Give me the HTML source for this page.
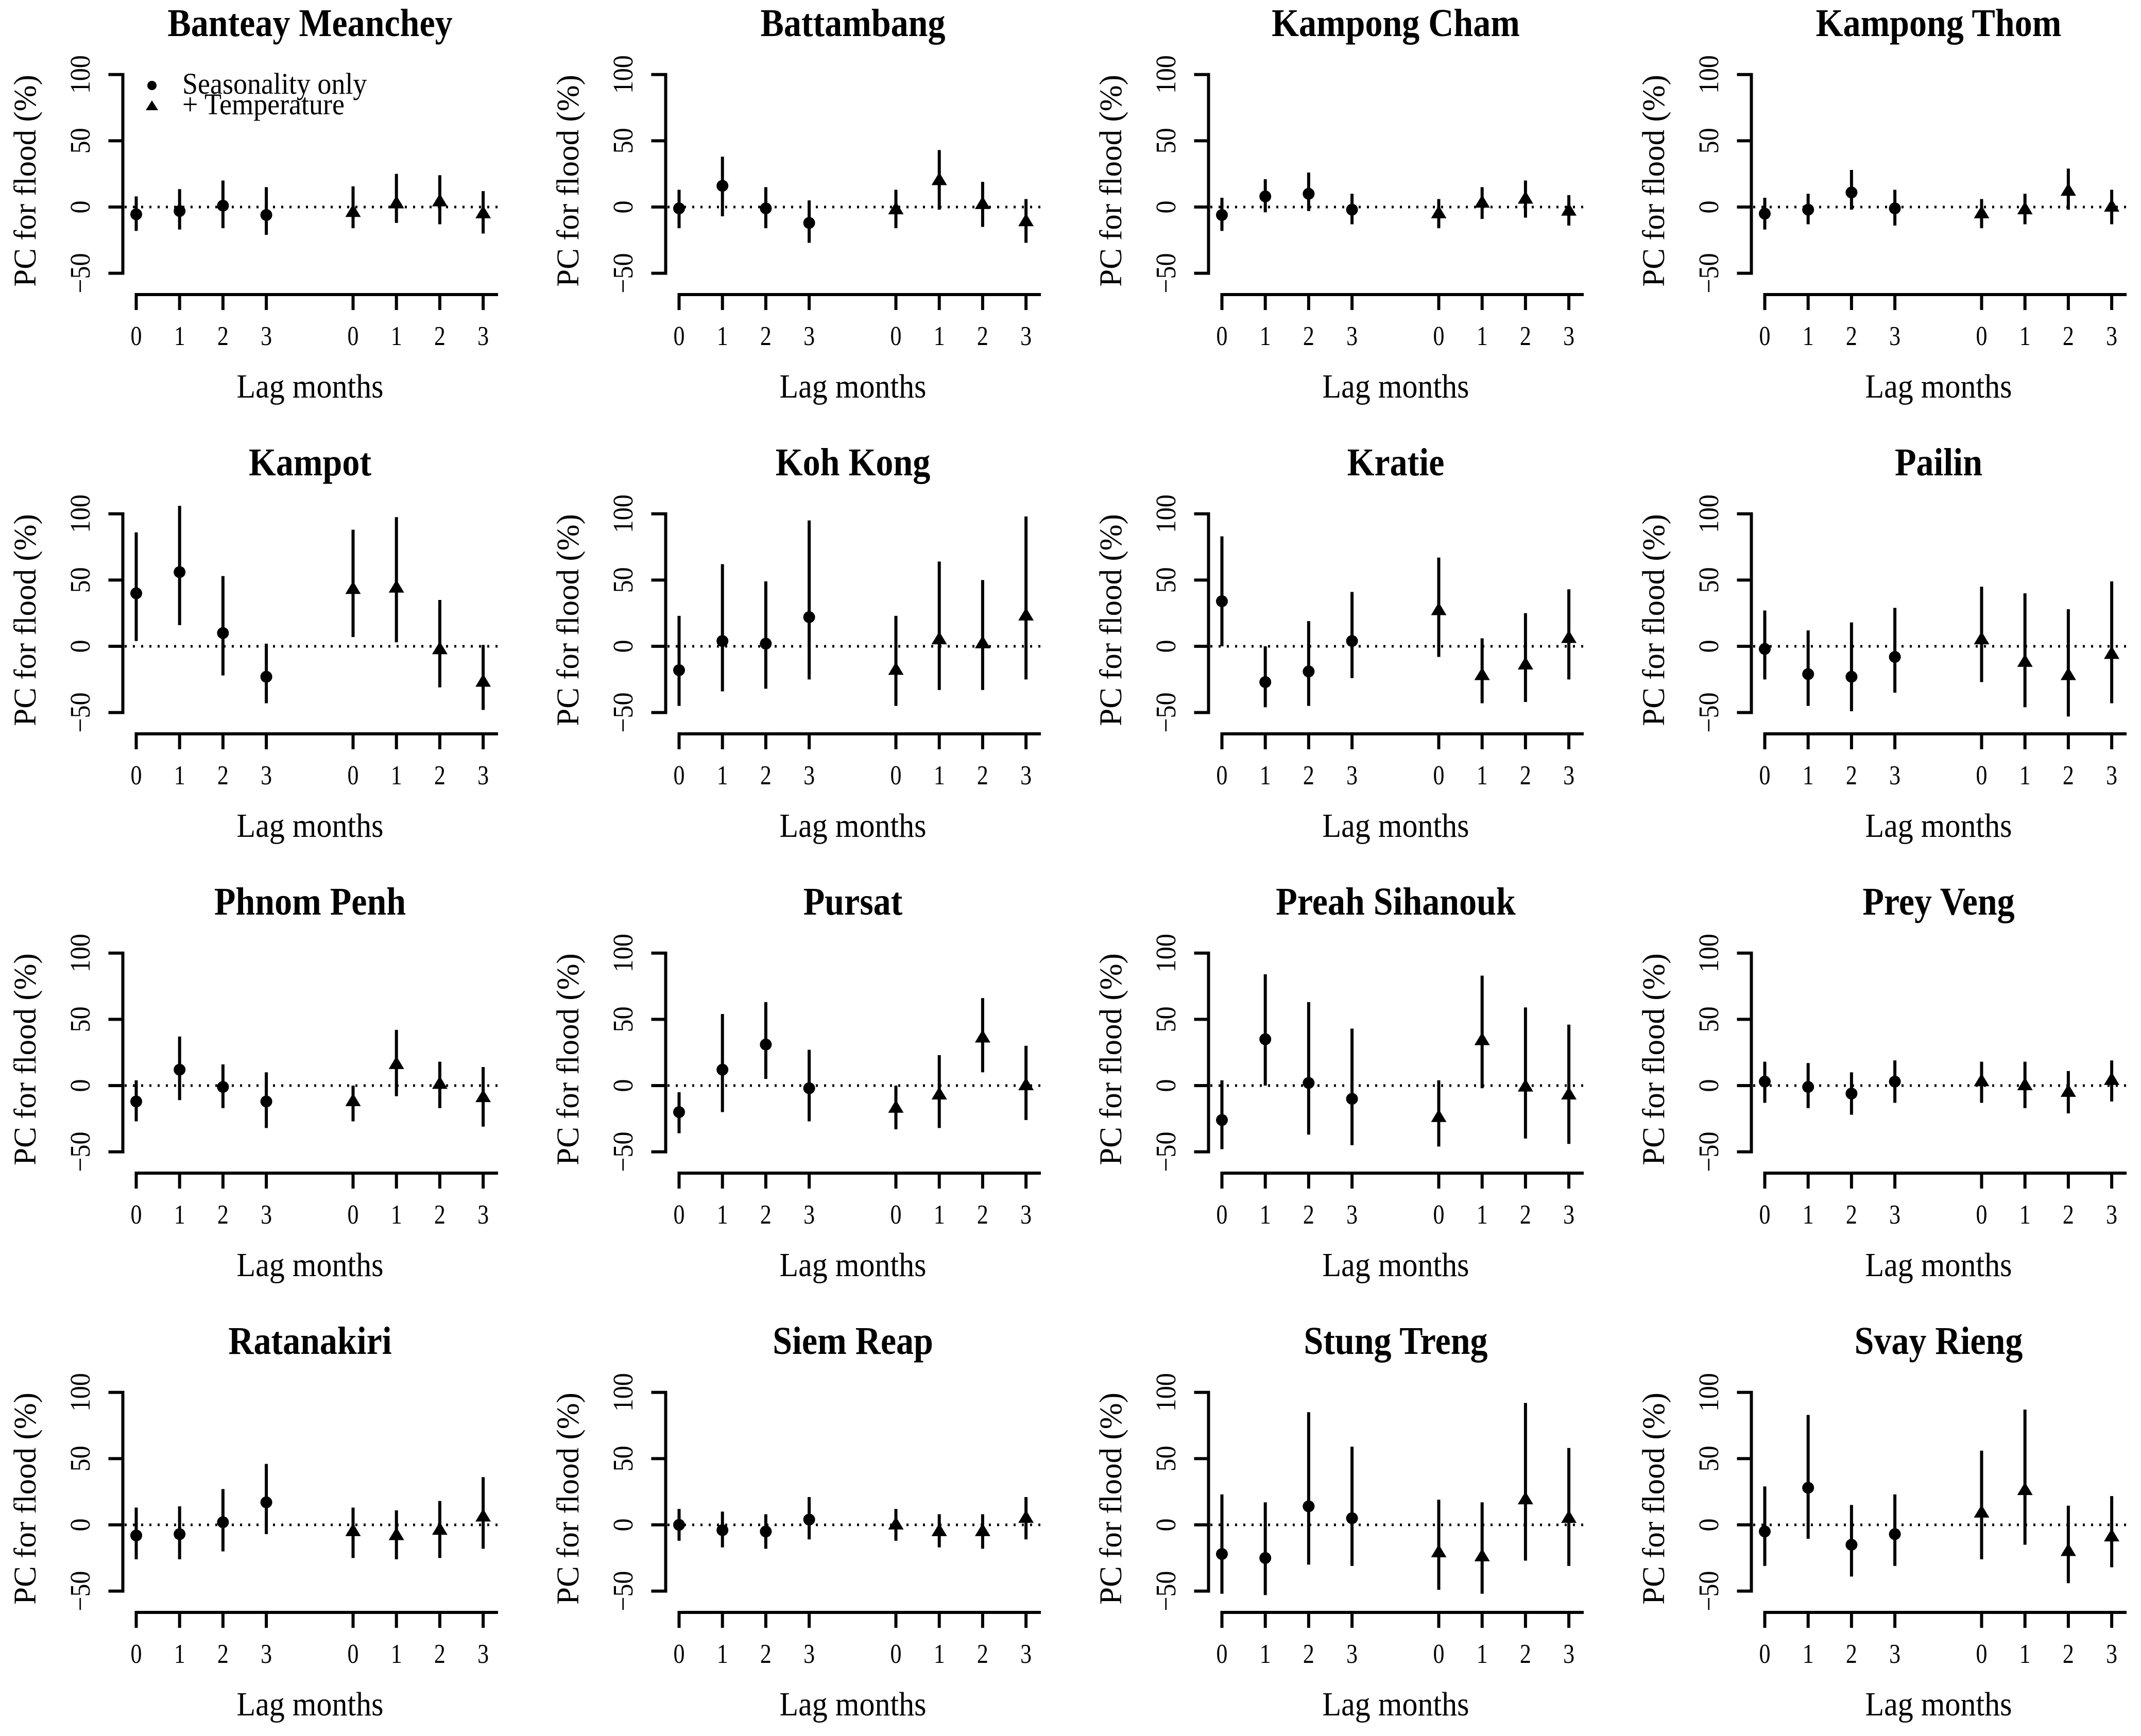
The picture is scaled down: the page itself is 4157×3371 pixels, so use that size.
<!DOCTYPE html>
<html><head><meta charset="utf-8">
<style>
html,body{margin:0;padding:0;background:#fff;}
svg{display:block;}
text{font-family:"Liberation Serif","DejaVu Serif",serif;fill:#000;}
</style></head>
<body>
<svg id="chart" xmlns="http://www.w3.org/2000/svg" width="4157" height="3371" viewBox="0 0 4157 3371"></svg>
<script>
const provinces = ["Banteay Meanchey","Battambang","Kampong Cham","Kampong Thom","Kampot","Koh Kong","Kratie","Pailin","Phnom Penh","Pursat","Preah Sihanouk","Prey Veng","Ratanakiri","Siem Reap","Stung Treng","Svay Rieng"];
const lagLabels = ["0","1","2","3","0","1","2","3"];
const yTicks = [-50, 0, 50, 100];
// seasonality only: estimate, lower, upper (lags 0..3)
const seasEst = [[-5.5,-3,1,-6],[-1,16,-1,-12],[-6,8,10,-2],[-5,-2,11,-1],[40,56,10,-23],[-18,4,2,22],[34,-27,-19,4],[-2,-21,-23,-8],[-12,12,-1,-12],[-20,12,31,-2],[-26,35,2,-10],[3,-1,-6,3],[-8,-7,2,17],[0,-4,-5,4],[-22,-25,14,5],[-5,28,-15,-7]];
const seasLo = [[-18,-17,-16,-21],[-16,-7,-16,-27],[-18,-4,-3,-13],[-17,-13,-2,-14],[4,16,-22,-43],[-45,-34,-32,-25],[0,-46,-45,-24],[-25,-45,-49,-35],[-27,-11,-17,-32],[-36,-20,5,-27],[-48,0,-37,-45],[-13,-17,-22,-13],[-26,-26,-20,-7],[-12,-17,-18,-11],[-52,-53,-30,-31],[-31,-10.5,-39,-31]];
const seasHi = [[8,13.5,20,15],[13,38,15,5],[7,21,26,10],[7,10,28,13],[86,106,53,2],[23,62,49,95],[83,0,19,41],[27,12,18,29],[4,37,16,10],[-5,54,63,27],[4,84,63,43],[18,17,10,19],[13,14,27,46],[12,10,8,21],[23,17,85,59],[29,83,15,23]];
// + temperature: estimate, lower, upper (lags 0..3)
const tempEst = [[-4,2.5,4,-5],[-2,20,2,-11],[-5,3,6,-3],[-5,-2,12,0],[43,44,-2.5,-27],[-18,5,2,23],[27,-22,-14,6],[5,-12,-22,-6],[-12,16,1,-9],[-17,-7,36,0],[-24,34,-1,-7],[3,0,-5,4],[-5,-8,-4,6],[0,-5,-5,5],[-21,-24,19,5],[9,26,-20,-9]];
const tempLo = [[-16,-12,-13,-20],[-16,-2,-15,-27],[-16,-9,-8,-14],[-16,-13,-2,-13],[7,3,-31,-48],[-45,-33,-33,-25],[-8,-43,-42,-25],[-27,-46,-53,-43],[-27,-8,-17,-31],[-33,-32,10,-26],[-46,-2,-40,-44],[-13,-17,-21,-12],[-25,-26,-25,-18],[-12,-17,-18,-11],[-49,-52,-27,-31],[-26,-15,-44,-32]];
const tempHi = [[15.6,25,24,12],[13,43,19,6],[6,15,20,9],[6,10,29,13],[88,97.5,35,1],[23,64,50,98],[67,6,25,43],[45,40,28,49],[0,42,18,14],[0,23,66,30],[4,83,59,46],[18,18,11,19],[13,11,18,36],[12,8,8,21],[19,17,92,58],[56,87,14.5,21.7]];

const NS = "http://www.w3.org/2000/svg";
const svg = document.getElementById("chart");
const COLW = 1054, ROWH = 853;
const AX_X = 238.5, ZERO_Y = 402, PX_PER = 2.573, X0 = 264.5, XSTEP = 84.2;
const slots = [0,1,2,3,5,6,7,8];
function yS(v){ return ZERO_Y - v * PX_PER; }
function xS(slot){ return X0 + XSTEP * slot; }
function mk(tag, attrs, parent){
  const e = document.createElementNS(NS, tag);
  for (const k in attrs) e.setAttribute(k, attrs[k]);
  parent.appendChild(e);
  return e;
}

provinces.forEach((name, p) => {
  const col = p % 4, row = Math.floor(p / 4);
  const g = mk("g", {transform: `translate(${col*COLW},${row*ROWH})`}, svg);
  
  

  const t = mk("text", {x: 0, y: 0, "text-anchor": "middle", "font-size": 68, "font-weight": "bold", transform: "translate(602,70) scale(1,1.12)"}, g);
  t.textContent = name;
  
  

  // y axis
  const ya = mk("line", {x1: AX_X, y1: yS(-50), x2: AX_X, y2: yS(100), stroke: "#000", "stroke-width": 6}, g);
  
  
  yTicks.forEach(v => {
    const tk = mk("line", {x1: AX_X - 28, y1: yS(v), x2: AX_X + 3, y2: yS(v), stroke: "#000", "stroke-width": 6}, g);
    
    
    const tl = mk("text", {x: 0, y: 0, "text-anchor": "middle", "font-size": 50, transform: `translate(174,${yS(v)}) rotate(-90) scale(1,1.1)`}, g);
    tl.textContent = v < 0 ? "\u2212" + Math.abs(v) : String(v);
    
    
  });
  const yl = mk("text", {x: 0, y: 0, "text-anchor": "middle", "font-size": 61, transform: `translate(69,351) rotate(-90)`}, g);
  yl.textContent = "PC for flood (%)";
  
  

  // x axis
  const xa = mk("line", {x1: X0 - 3, y1: 572, x2: 967, y2: 572, stroke: "#000", "stroke-width": 6}, g);
  
  
  slots.forEach((s, i) => {
    const tk = mk("line", {x1: xS(s), y1: 569, x2: xS(s), y2: 602, stroke: "#000", "stroke-width": 6}, g);
    
    
    const tl = mk("text", {x: 0, y: 0, "text-anchor": "middle", "font-size": 44, transform: `translate(${xS(s)},670) scale(1,1.2)`}, g);
    tl.textContent = lagLabels[i];
    
    
  });
  const xl = mk("text", {x: 0, y: 0, "text-anchor": "middle", "font-size": 60, transform: "translate(602,772) scale(1,1.1)"}, g);
  xl.textContent = "Lag months";
  
  

  // zero reference line
  const zl = mk("line", {x1: 242, y1: yS(0), x2: 966, y2: yS(0), stroke: "#000", "stroke-width": 5, "stroke-dasharray": "4 12"}, g);
  
  

  // series
  for (let i = 0; i < 4; i++) {
    const xc = xS(slots[i]);
    const eb = mk("line", {x1: xc, y1: yS(seasLo[p][i]), x2: xc, y2: yS(seasHi[p][i]), stroke: "#000", "stroke-width": 6}, g);
    
    
    const c = mk("ellipse", {cx: xc, cy: yS(seasEst[p][i]), rx: 11.5, ry: 11.5, fill: "#000"}, g);
    
    

    const xt = xS(slots[i + 4]);
    const eb2 = mk("line", {x1: xt, y1: yS(tempLo[p][i]), x2: xt, y2: yS(tempHi[p][i]), stroke: "#000", "stroke-width": 6}, g);
    
    
    const yc = yS(tempEst[p][i]);
    const tr = mk("polygon", {points: `${xt-15},${yc+9} ${xt+15},${yc+9} ${xt},${yc-16}`, fill: "#000"}, g);
    
    
  }

  if (p === 0) {
    const lg = mk("g", {}, g);
    
    
    const lc = mk("ellipse", {cx: 295, cy: 166, rx: 9, ry: 9, fill: "#000"}, lg);
    
    
    const lt = mk("text", {x: 0, y: 0, "font-size": 54, transform: "translate(354,182) scale(1,1.08)"}, lg);
    lt.textContent = "Seasonality only";
    
    
    const ltr = mk("polygon", {points: "283,214 307,214 295,195", fill: "#000"}, lg);
    
    
    const lt2 = mk("text", {x: 0, y: 0, "font-size": 54, transform: "translate(354,222) scale(1,1.08)"}, lg);
    lt2.textContent = "+ Temperature";
    
    
  }
});
</script>
</body></html>
